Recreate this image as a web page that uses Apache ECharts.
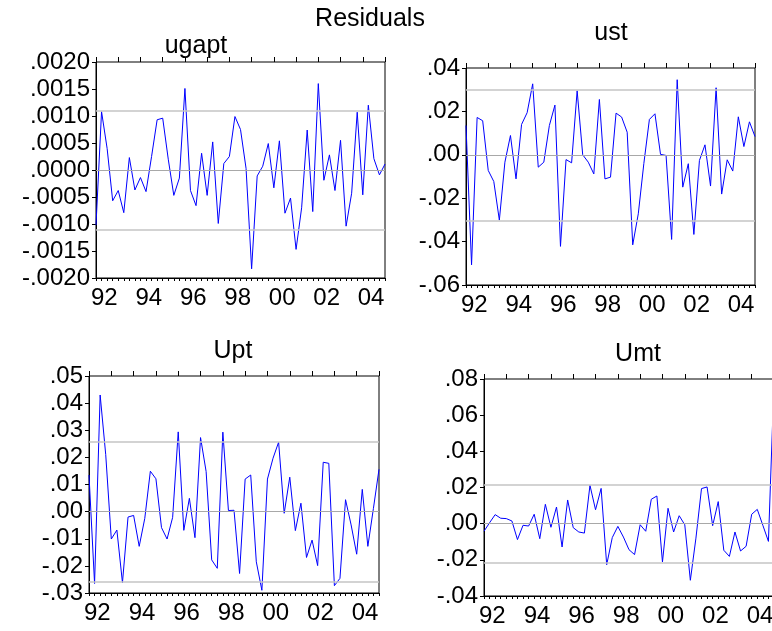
<!DOCTYPE html>
<html>
<head>
<meta charset="utf-8">
<script src="https://cdn.jsdelivr.net/npm/echarts@6/dist/echarts.min.js"></script>
<style>
  html, body { margin: 0; padding: 0; background: #fff; }
  #chart { width: 772px; height: 631px; }
</style>
</head>
<body>
<div id="chart"></div>
<script>
// quarterly residuals, 1992Q1 .. 2005Q1 (53 obs)
const quarters = []
for (let y = 1992; y <= 2005; y++) {
  for (let q = 1; q <= 4; q++) {
    if (y === 2005 && q > 1) break
    quarters.push(y + 'Q' + q)
  }
}
const yearLabels = ['92', '94', '96', '98', '00', '02', '04']

const ugapt = [-0.00102, 0.00108, 0.0004, -0.00057, -0.00038, -0.00079, 0.00023, -0.00037, -0.00014, -0.0004,
  0.00025, 0.00093, 0.00096, 0.0002, -0.00047, -0.00015, 0.00151, -0.00038, -0.00066, 0.00031,
  -0.00047, 0.00052, -0.00099, 0.00012, 0.00025, 0.00099, 0.00075, 0.00003, -0.00183, -0.00011,
  0.00007, 0.00049, -0.00033, 0.00054, -0.0008, -0.00052, -0.00147, -0.0007, 0.00074, -0.00077,
  0.0016, -0.00019, 0.00028, -0.00038, 0.00055, -0.00104, -0.00043, 0.00107, -0.00046, 0.0012,
  0.00021, -0.00009, 0.00011]
const ust = [0.0135, -0.0507, 0.0172, 0.0157, -0.0072, -0.0123, -0.0301, -0.0034, 0.0089, -0.0111,
  0.014, 0.0194, 0.0327, -0.0057, -0.0034, 0.0135, 0.0229, -0.0422, -0.0022, -0.0037,
  0.0295, 0.0, -0.0034, -0.0088, 0.0255, -0.0111, -0.0103, 0.0192, 0.0174, 0.0104,
  -0.0415, -0.0272, -0.004, 0.0163, 0.0189, 0.0002, -0.0003, -0.039, 0.0346, -0.0149,
  -0.0041, -0.0367, -0.0026, 0.0046, -0.0144, 0.0309, -0.0181, -0.0023, -0.0075, 0.0175,
  0.0038, 0.0152, 0.0084]
const upt = [0.0135, -0.0265, 0.043, 0.021, -0.0101, -0.0068, -0.0262, -0.002, -0.0014, -0.0128,
  -0.0025, 0.0149, 0.0121, -0.0059, -0.0101, -0.0021, 0.0294, -0.0069, 0.0049, -0.0096,
  0.0273, 0.0148, -0.0178, -0.0209, 0.0293, 0.0004, 0.0005, -0.0228, 0.012, 0.0135,
  -0.0185, -0.029, 0.012, 0.0197, 0.0256, -0.0006, 0.0127, -0.007, 0.0031, -0.0169,
  -0.0105, -0.0199, 0.0182, 0.0178, -0.0273, -0.0246, 0.0044, -0.0049, -0.0157, 0.0082,
  -0.0128, 0.0012, 0.0156]
const umt = [-0.0042, 0.0005, 0.005, 0.003, 0.0028, 0.0015, -0.0088, -0.0009, -0.0013, 0.0052,
  -0.0083, 0.0107, -0.002, 0.0092, -0.0129, 0.0131, -0.0022, -0.0046, -0.0052, 0.0212,
  0.0077, 0.0195, -0.0227, -0.0077, -0.0015, -0.0074, -0.0144, -0.0171, -0.0006, -0.0042,
  0.0135, 0.0153, -0.0212, 0.0085, -0.0046, 0.0044, -0.0006, -0.0313, -0.008, 0.0194,
  0.0203, -0.0011, 0.0122, -0.0147, -0.0181, -0.0046, -0.0151, -0.0125, 0.0052, 0.0079,
  -0.0009, -0.0098, 0.078]

// +/- one standard error bands
const seBands = [0.0011, 0.0302, 0.0258, 0.0217]

const panels = [
  { name: 'ugapt', data: ugapt, min: -0.002, max: 0.002, step: 0.0005, dec: 4, grid: { left: 96, top: 62, width: 289, height: 216 }, title: [196, 46] },
  { name: 'ust', data: ust, min: -0.06, max: 0.04, step: 0.02, dec: 2, grid: { left: 466, top: 68, width: 289, height: 217 }, title: [611, 33] },
  { name: 'Upt', data: upt, min: -0.03, max: 0.05, step: 0.01, dec: 2, grid: { left: 89, top: 376, width: 290, height: 217 }, title: [233, 351] },
  // right part of this panel runs past the picture edge
  { name: 'Umt', data: umt, min: -0.04, max: 0.08, step: 0.02, dec: 2, grid: { left: 484, top: 379, width: 290, height: 217 }, title: [638, 354] }
]

const FONT = 'Liberation Sans'
const last = quarters.length - 1
const allTicks = quarters.map((q, i) => i)
const yearTicks = allTicks.filter(i => i % 4 === 0)
const labelPos = yearLabels.map((l, k) => k * 8 + 1.5)

function fmt (dec) {
  return v => {
    const s = Math.abs(v).toFixed(dec).replace(/^0/, '')
    return (v < -1e-12 ? '-' : '') + s
  }
}

const option = {
  backgroundColor: '#fff',
  animation: false,
  grid: [],
  xAxis: [],
  yAxis: [],
  series: [],
  graphic: [{
    type: 'text', x: 370, y: 19,
    style: { text: 'Residuals', font: '25px "' + FONT + '"', fill: '#000', align: 'center', verticalAlign: 'middle' }
  }]
}

panels.forEach((p, k) => {
  option.grid.push(Object.assign({
    show: true, borderColor: '#000', borderWidth: 1, backgroundColor: '#fff',
    containLabel: false, outerBoundsMode: 'none'
  }, p.grid))
  option.xAxis.push({
    type: 'value', gridIndex: k, min: 0, max: last,
    axisLine: { show: true, onZero: false, lineStyle: { color: '#000', width: 1 } },
    axisTick: { show: true, customValues: allTicks, length: 3, lineStyle: { color: '#000' } },
    axisLabel: {
      customValues: labelPos, margin: 8, fontSize: 24, fontFamily: FONT, color: '#000',
      formatter: v => yearLabels[Math.round((v - 1.5) / 8)]
    },
    splitLine: { show: false }
  })
  option.xAxis.push({
    type: 'value', gridIndex: k, min: 0, max: last,
    axisLine: { show: false, onZero: false },
    axisTick: { show: true, customValues: yearTicks, length: 5, lineStyle: { color: '#000' } },
    axisLabel: { show: false },
    splitLine: { show: false }
  })
  option.yAxis.push({
    type: 'value', gridIndex: k, min: p.min, max: p.max, interval: p.step,
    axisLine: { show: true, onZero: false, lineStyle: { color: '#000', width: 1 } },
    axisTick: { show: true, length: 4, lineStyle: { color: '#000' } },
    axisLabel: { margin: 6, fontSize: 24, fontFamily: FONT, color: '#000', formatter: fmt(p.dec) },
    splitLine: { show: false }
  })
  option.series.push({
    type: 'line', xAxisIndex: k * 2, yAxisIndex: k,
    data: p.data.map((v, i) => [i, v]),
    symbol: 'none', smooth: false, z: 3,
    lineStyle: { color: '#0000ff', width: 1 },
    markLine: {
      silent: true, symbol: ['none', 'none'], label: { show: false }, animation: false, precision: 8,
      data: [
        { yAxis: seBands[k], lineStyle: { color: '#c4c4c4', width: 1.5, type: 'solid' } },
        { yAxis: -seBands[k], lineStyle: { color: '#c4c4c4', width: 1.5, type: 'solid' } },
        { yAxis: 0, lineStyle: { color: '#a8a8a8', width: 1, type: 'solid' } }
      ]
    }
  })
  option.graphic.push({
    type: 'text', x: p.title[0], y: p.title[1],
    style: { text: p.name, font: '25px "' + FONT + '"', fill: '#000', align: 'center', verticalAlign: 'middle' }
  })
})

const chart = echarts.init(document.getElementById('chart'))
chart.setOption(option)
</script>
</body>
</html>
